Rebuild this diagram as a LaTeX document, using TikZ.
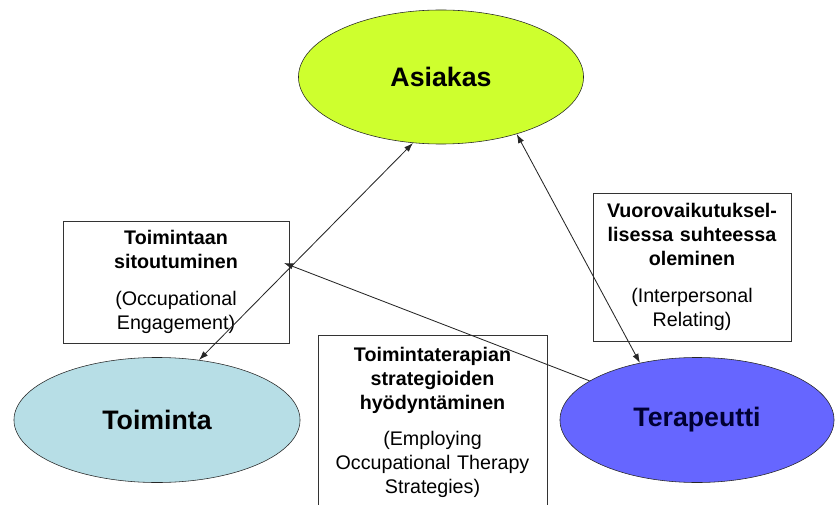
\documentclass[tikz,border=0pt]{standalone}
\usepackage{fontspec}
\setmainfont{Liberation Sans}
\usetikzlibrary{shapes.geometric,arrows.meta}
\definecolor{asiakasgreen}{RGB}{206,255,46}
\definecolor{toimintablue}{RGB}{183,222,230}
\definecolor{terapeuttiblue}{RGB}{102,102,255}

\begin{document}
\begin{tikzpicture}[x=0.025cm,y=-0.025cm,
    actor/.style={ellipse,draw=black!85,inner sep=0pt,font=\fontsize{19}{23}\selectfont\bfseries},
    skill/.style={draw=black!80,align=center,inner xsep=0pt,inner ysep=0pt,font=\fontsize{14}{17}\selectfont},
    link/.style={black!85,semithick,>={Latex[length=6.5pt,width=4.5pt]}}]
    \useasboundingbox (0,0) rectangle (835,505);
    \clip (0,0) rectangle (835,505);
    %\draw[very thin,color=gray] (0,0) grid (835,505);
    \node[actor,fill=asiakasgreen,minimum width=7.125cm,minimum height=3.35cm] (asiakas) at (441,77) {Asiakas};
    \node[actor,fill=toimintablue,minimum width=7.15cm,minimum height=3.125cm] (toiminta) at (157,420) {Toiminta};
    \node[actor,fill=terapeuttiblue,text=black!80!blue,minimum width=6.85cm,minimum height=3.125cm] (terapeutti) at (697,420) {Terapeutti};

    \node[skill,text width=5.65cm,minimum height=3.05cm] (engagement) at (176,282)
        {{\bfseries Toimintaan\\ sitoutuminen}\\[9pt] (Occupational\\ Engagement)};
    \node[skill,text width=4.95cm,minimum height=3.7cm] (relating) at (692,267)
        {{\bfseries Vuorovaikutuksel-\\ lisessa suhteessa\\ oleminen}\\[9pt] (Interpersonal\\ Relating)};
    \node[skill,text width=5.725cm,inner ysep=0.3cm,anchor=north] (strategies) at (432.5,335)
        {{\bfseries Toimintaterapian\\ strategioiden\\ hyödyntäminen}\\[9pt] (Employing\\ Occupational Therapy\\ Strategies)};

    \draw[link,<->] (asiakas.247) -- (toiminta.55);
    \draw[link,<->] (asiakas.323) -- (terapeutti.135);
    \coordinate (engtip) at (284,263);
    \draw[link,->] (terapeutti.160) -- (engtip);
\end{tikzpicture}
\end{document}
